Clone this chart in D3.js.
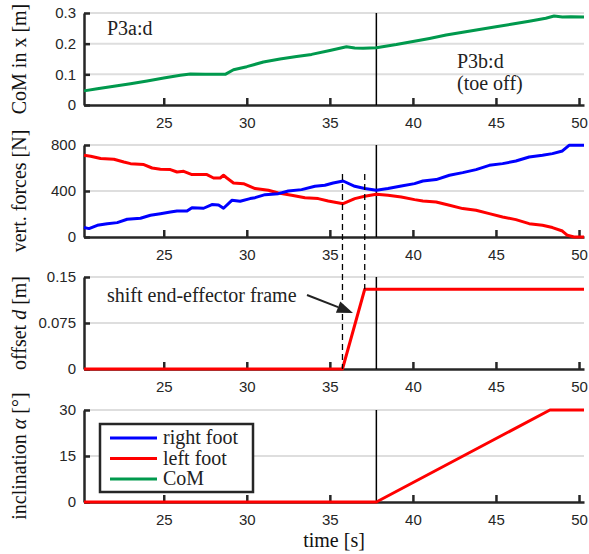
<!DOCTYPE html>
<html>
<head>
<meta charset="utf-8">
<script src="https://cdn.jsdelivr.net/npm/d3@7"></script>
<style>
  body { margin: 0; background: #fff; }
  svg { display: block; }
</style>
</head>
<body>
<div id="svgContainer"></div>
<script>
// time axis
const timeDomain = [20.2, 50.3];
const timeTicks = [25, 30, 35, 40, 45, 50];
const toeOff = 37.8;
const shiftStart = 35.76;
const shiftEnd = 37.1;

// CoM in x [m]
const comT = [20.2, 21, 22, 23, 24, 25, 26, 26.6, 27.5, 28.7, 29.2, 30, 31, 32, 33, 33.9, 35, 36, 36.5, 37, 37.8, 39, 40, 41, 42, 43, 44, 45, 46, 47, 48, 48.5, 49, 49.5, 50.3];
const comX = [0.046, 0.053, 0.061, 0.069, 0.078, 0.088, 0.097, 0.101, 0.100, 0.100, 0.115, 0.125, 0.14, 0.15, 0.158, 0.165, 0.178, 0.19, 0.186, 0.185, 0.187, 0.197, 0.207, 0.217, 0.228, 0.237, 0.246, 0.255, 0.264, 0.273, 0.283, 0.29, 0.287, 0.288, 0.287];

// vertical forces [N]
const rightT = [20.2, 20.5, 21, 21.6, 22.2, 22.8, 23.6, 24.2, 24.8, 25.4, 25.8, 26.4, 26.7, 27.4, 27.9, 28.3, 28.6, 29.1, 29.6, 30.2, 30.5, 31.1, 31.9, 32.5, 33.3, 34.1, 34.7, 35.2, 35.8, 36.5, 37.1, 37.8, 38.5, 39.3, 40.1, 40.6, 41.4, 42.2, 43, 43.8, 44.6, 45.4, 46.2, 47, 47.8, 48.4, 49, 49.4, 50.3];
const rightF = [82, 73, 102, 116, 125, 154, 163, 189, 203, 217, 226, 226, 255, 250, 282, 278, 250, 319, 311, 334, 342, 368, 377, 400, 412, 441, 450, 470, 487, 441, 421, 406, 421, 444, 464, 487, 499, 537, 560, 586, 623, 638, 661, 696, 711, 725, 748, 797, 797];
const leftT = [20.2, 20.6, 21.2, 22, 22.6, 23, 23.8, 24.3, 24.8, 25.4, 25.8, 26.2, 26.7, 27.6, 28, 28.4, 28.6, 28.8, 29.2, 29.8, 30.5, 31.3, 31.9, 32.7, 33.5, 34.3, 34.9, 35.8, 36.5, 37.1, 37.8, 38.5, 39.3, 40.1, 40.6, 41.4, 42.2, 43, 43.8, 44.6, 45.4, 46.2, 47, 47.8, 48.4, 49, 49.3, 49.7, 50.3];
const leftF = [711, 702, 682, 676, 652, 638, 630, 600, 589, 586, 565, 571, 543, 543, 513, 513, 537, 513, 470, 464, 421, 406, 383, 363, 342, 334, 313, 290, 334, 354, 371, 363, 348, 325, 313, 304, 276, 247, 232, 203, 174, 151, 116, 102, 82, 52, 15, 0, 0];

// offset d [m]
const offsetT = [20.2, shiftStart, shiftEnd, 50.3];
const offsetD = [0, 0, 0.13, 0.13];

// inclination alpha [deg]
const inclT = [20.2, toeOff, 48.25, 50.3];
const inclA = [0, 0, 30, 30];

const width = 589;
const height = 554;
const left = 84;
const right = 584;
const panelH = 92;
const tickFont = "'Liberation Sans', Arial, sans-serif";
const serif = "'Liberation Serif', 'Times New Roman', serif";
const axisColor = "#262626";

const svg = d3.select('#svgContainer').append('svg')
    .attr('width', width).attr('height', height);

const xScale = d3.scaleLinear().domain(timeDomain).range([left, right]);

function zip(ts, vs){ return ts.map((t, i) => [t, vs[i]]) }

function panel(top, yDomain, yTicks, fmt, label){
    const y = d3.scaleLinear().domain(yDomain).range([top + panelH, top]);
    const g = svg.append('g');

    // grid
    g.selectAll('.grid').data(yTicks.filter(d => d !== 0)).enter()
        .append('line')
        .attr('x1', left).attr('x2', right)
        .attr('y1', d => y(d)).attr('y2', d => y(d))
        .attr('stroke', '#dedede').attr('stroke-width', 2);

    const yAx = g.append('g')
        .attr('transform', 'translate(' + left + ',0)')
        .call(d3.axisLeft(y).tickValues(yTicks).tickFormat(fmt).tickSizeInner(-6).tickSizeOuter(0).tickPadding(8));
    const xAx = g.append('g')
        .attr('transform', 'translate(0,' + (top + panelH) + ')')
        .call(d3.axisBottom(xScale).tickValues(timeTicks).tickFormat(d3.format('d')).tickSizeInner(-7).tickSizeOuter(0).tickPadding(12));
    [yAx, xAx].forEach(a => {
        a.select('.domain').attr('stroke', axisColor).attr('stroke-width', 2.5);
        a.selectAll('.tick line').attr('stroke', axisColor).attr('stroke-width', 2.5);
        a.selectAll('.tick text').attr('fill', axisColor)
            .style('font-family', tickFont).style('font-size', '15px');
    });

    // toe off marker
    g.append('line')
        .attr('x1', xScale(toeOff)).attr('x2', xScale(toeOff))
        .attr('y1', top).attr('y2', top + panelH)
        .attr('stroke', '#000').attr('stroke-width', 1.5);

    const t = svg.append('text')
        .attr('transform', 'translate(26,' + (top + panelH / 2) + ') rotate(-90)')
        .attr('text-anchor', 'middle')
        .style('font-family', serif).style('font-size', '20px').attr('fill', '#111');
    label.forEach(p => t.append('tspan').text(p[0]).style('font-style', p[1] ? 'italic' : 'normal'));
    return y;
}

function line(y, data, color){
    svg.append('path')
        .datum(data)
        .attr('d', d3.line().x(d => xScale(d[0])).y(d => y(d[1])))
        .attr('fill', 'none')
        .attr('stroke', color)
        .attr('stroke-width', 3)
        .attr('stroke-linejoin', 'round');
}

const blue = '#0000ff', red = '#ff0000', green = '#00994d';
const tops = [13, 145, 277, 410];

const y1 = panel(tops[0], [0, 0.3], [0, 0.1, 0.2, 0.3], d => d === 0 ? '0' : d3.format('.1f')(d), [['CoM in x [m]']]);
line(y1, zip(comT, comX), green);

const y2 = panel(tops[1], [0, 800], [0, 400, 800], d3.format('d'), [['vert. forces [N]']]);
line(y2, zip(leftT, leftF), red);
line(y2, zip(rightT, rightF), blue);

const y3 = panel(tops[2], [0, 0.15], [0, 0.075, 0.15], d => d === 0 ? '0' : String(d), [['offset '], ['d', true], [' [m]']]);
line(y3, zip(offsetT, offsetD), red);

const y4 = panel(tops[3], [0, 30], [0, 15, 30], d3.format('d'), [['inclination '], ['α', true], [' [°]']]);
line(y4, zip(inclT, inclA), red);

// dashed guides
[[shiftStart, y3(0)], [shiftEnd, y3(0.13)]].forEach(d => {
    svg.append('line')
        .attr('x1', xScale(d[0])).attr('x2', xScale(d[0]))
        .attr('y1', 174).attr('y2', d[1])
        .attr('stroke', '#000').attr('stroke-width', 1.3)
        .attr('stroke-dasharray', '6,4');
});

// text annotations
function note(x, yy, s){
    svg.append('text').attr('x', x).attr('y', yy).text(s)
        .style('font-family', serif).style('font-size', '20px').attr('fill', '#222');
}
note(107, 35, 'P3a:d');
note(457, 68, 'P3b:d');
note(457, 90, '(toe off)');
note(107, 302, 'shift end-effector frame');

// arrow
const ax0 = 307, ay0 = 295, ax1 = 353, ay1 = 313;
const ang = Math.atan2(ay1 - ay0, ax1 - ax0);
const hl = 16, hw = 6;
const bx = ax1 - hl * Math.cos(ang), by = ay1 - hl * Math.sin(ang);
svg.append('line').attr('x1', ax0).attr('y1', ay0).attr('x2', bx).attr('y2', by)
    .attr('stroke', '#222').attr('stroke-width', 2);
svg.append('polygon')
    .attr('points', [[ax1, ay1],
        [bx + hw * Math.sin(ang), by - hw * Math.cos(ang)],
        [bx - hw * Math.sin(ang), by + hw * Math.cos(ang)]].map(p => p.join(',')).join(' '))
    .attr('fill', '#222');

// legend
const legendItems = ['right foot', 'left foot', 'CoM'];
const legendColors = [blue, red, green];
const lg = svg.append('g').attr('transform', 'translate(100,424)');
lg.append('rect').attr('width', 153).attr('height', 68)
    .attr('fill', '#fff').attr('stroke', axisColor).attr('stroke-width', 2.5);
legendItems.forEach((s, i) => {
    const yy = 14 + i * 20.5;
    lg.append('line').attr('x1', 10).attr('x2', 57).attr('y1', yy).attr('y2', yy)
        .attr('stroke', legendColors[i]).attr('stroke-width', 3);
    lg.append('text').attr('x', 63).attr('y', yy + 6).text(s)
        .style('font-family', serif).style('font-size', '20px').attr('fill', '#222');
});

// x label
svg.append('text').attr('x', 334).attr('y', 547).attr('text-anchor', 'middle')
    .text('time [s]')
    .style('font-family', serif).style('font-size', '20px').attr('fill', '#111');
</script>
</body>
</html>
